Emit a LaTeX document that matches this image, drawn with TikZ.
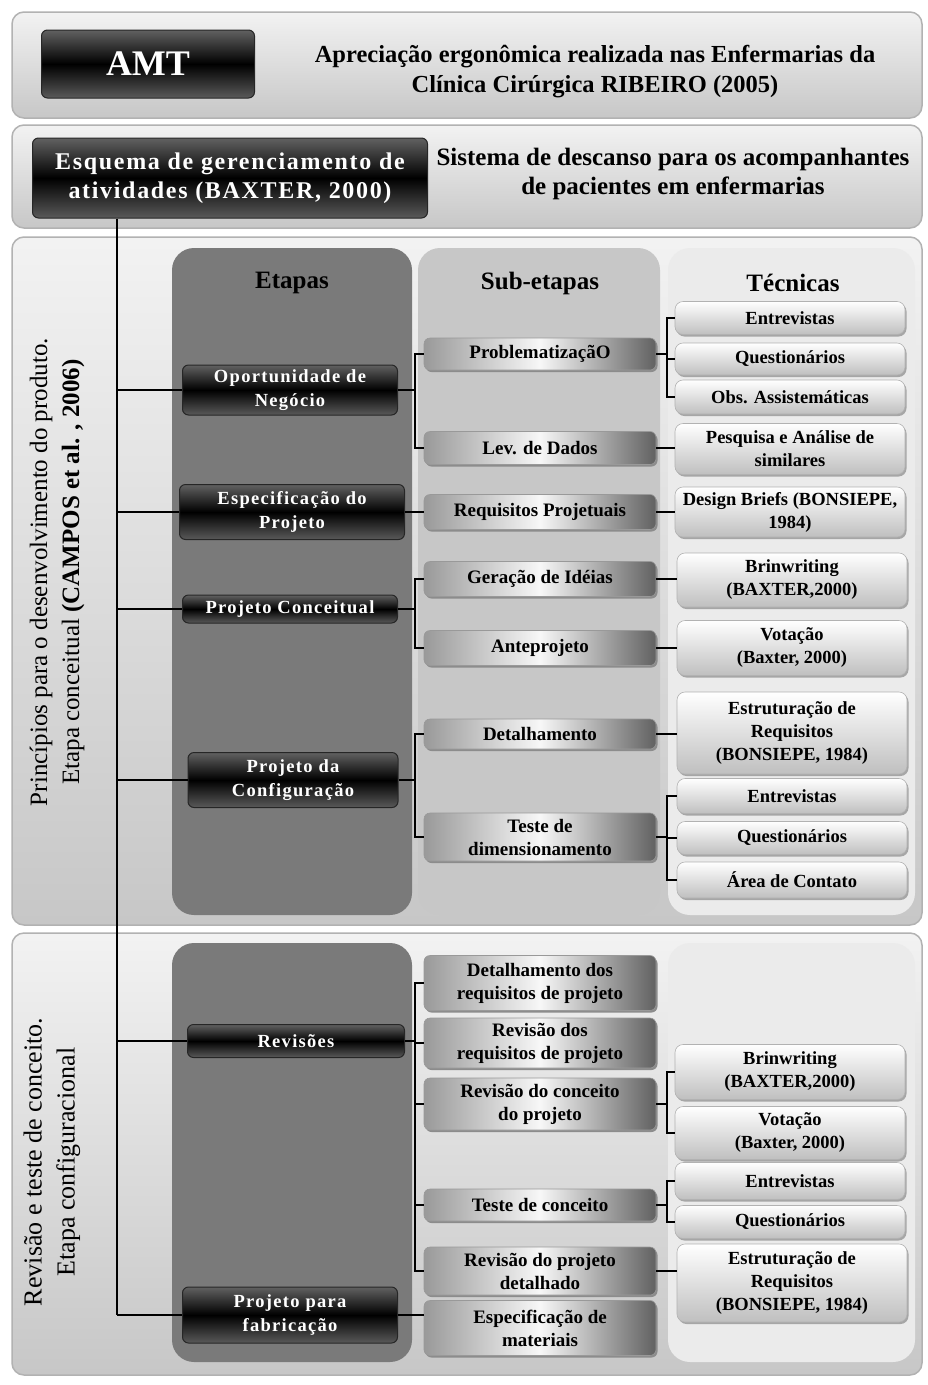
\documentclass[tikz,border=0pt]{standalone}
\usepackage{fontspec}
\setmainfont{Liberation Serif}
\newfontfamily\spcfont[LetterSpace=7]{Liberation Serif}
\usetikzlibrary{shadows}
\tikzset{
  panel/.style={rounded corners=12pt, draw=black!30, line width=1.5pt, top color=black!5, bottom color=black!22},
  etcol/.style={rounded corners=22pt, fill=black!52},
  subcol/.style={rounded corners=22pt, fill=black!22},
  teccol/.style={rounded corners=22pt, fill=black!8},
  darkbox/.style={rounded corners=6pt, draw=black!85, line width=1pt, top color=black!62, bottom color=black!65, middle color=black, text=white, align=center, font=\spcfont\bfseries\fontsize{18.5}{24}\selectfont, inner sep=1pt},
  subbox/.style={rounded corners=6pt, draw=black!40, line width=0.6pt, left color=black!40, right color=black!62, middle color=black!3, align=center, font=\bfseries\fontsize{19}{23}\selectfont, minimum width=232pt, inner sep=1pt, general shadow={fill=black!45, shadow xshift=1.5pt, shadow yshift=-2pt}},
  tecbox/.style={rounded corners=8pt, draw=black!30, line width=0.6pt, top color=white, bottom color=black!25, align=center, font=\bfseries\fontsize{18.5}{23}\selectfont, minimum width=230pt, inner sep=1pt, general shadow={fill=black!35, shadow xshift=1.5pt, shadow yshift=-2pt}},
  link/.style={draw=black, line width=1.3pt},
  header/.style={font=\bfseries\fontsize{25}{28}\selectfont},
  plain/.style={align=center, font=\bfseries\fontsize{24.5}{30}\selectfont},
  sidelab/.style={rotate=90, align=center, font=\fontsize{25}{32}\selectfont},
}
\begin{document}
\begin{tikzpicture}[x=1pt, y=-1pt]
\useasboundingbox (0,0) rectangle (927,1385);
\fill[white] (0,0) rectangle (927,1385);
% panels
\draw[panel] (12,12) rectangle (922,118);
\draw[panel] (12,125) rectangle (922,228);
\draw[panel] (12,237) rectangle (922,925);
\draw[panel] (12,933) rectangle (922,1375);
% columns
\fill[etcol] (172,248) rectangle (412,915);
\fill[subcol] (418,248) rectangle (660,915);
\fill[teccol] (668,248) rectangle (915,915);
\fill[etcol] (172,943) rectangle (412,1362);
\fill[teccol] (668,943) rectangle (915,1362);
% top
\node[darkbox, minimum width=213pt, minimum height=68pt, font=\bfseries\fontsize{36}{40}\selectfont] (amt) at (148,64) {AMT};
\node[plain] (title) at (595,72) {Apreciação ergonômica realizada nas Enfermarias da\\ Clínica Cirúrgica RIBEIRO (2005)};
\node[darkbox, minimum width=395pt, minimum height=80pt, font=\spcfont\bfseries\fontsize{24}{29}\selectfont] (esq) at (230,178) {Esquema de gerenciamento de\\ atividades (BAXTER, 2000)};
\node[plain, font=\bfseries\fontsize{25}{29}\selectfont] (sis) at (673,174) {Sistema de descanso para os acompanhantes\\ de pacientes em enfermarias};
% side labels
\node[sidelab] (lab1) at (57,572) {Princípios para o desenvolvimento do produto.\\ Etapa conceitual \textbf{(CAMPOS et al. , 2006)}};
\node[sidelab, font=\fontsize{26}{33}\selectfont] (lab2) at (52,1162) {Revisão e teste de conceito.\\ Etapa configuracional};
% headers
\node[header] (h1) at (292,283) {Etapas};
\node[header] (h2) at (540,283) {Sub-etapas};
\node[header] (h3) at (793,283) {Técnicas};
% etapas
\node[darkbox, minimum width=215pt, minimum height=50pt] (opp) at (290,390) {Oportunidade de\\ Negócio};
\node[darkbox, minimum width=225pt, minimum height=55pt] (esp) at (292,512) {Especificação do\\ Projeto};
\node[darkbox, minimum width=215pt, minimum height=28pt] (conc) at (290,609) {Projeto Conceitual};
\node[darkbox, minimum width=210pt, minimum height=55pt] (conf) at (293,780) {Projeto da\\ Configuração};
\node[darkbox, minimum width=217pt, minimum height=33pt] (rev) at (296,1041) {Revisões};
\node[darkbox, minimum width=215pt, minimum height=56pt] (fab) at (290,1315) {Projeto para\\ fabricação};
% sub-etapas
\node[subbox, minimum height=32pt] (prob) at (540,354) {ProblematizaçãO};
\node[subbox, minimum height=33pt] (lev) at (540,448) {Lev. de Dados};
\node[subbox, minimum height=35pt] (req) at (540,512) {Requisitos Projetuais};
\node[subbox, minimum height=35pt] (ger) at (540,579) {Geração de Idéias};
\node[subbox, minimum height=35pt] (ante) at (540,648) {Anteprojeto};
\node[subbox, minimum height=30pt] (det) at (540,734) {Detalhamento};
\node[subbox, minimum height=48pt] (tdim) at (540,837) {Teste de\\ dimensionamento};
\node[subbox, minimum height=55pt] (dreq) at (540,983) {Detalhamento dos\\ requisitos de projeto};
\node[subbox, minimum height=50pt] (rreq) at (540,1043) {Revisão dos\\ requisitos de projeto};
\node[subbox, minimum height=52pt] (rcon) at (540,1104) {Revisão do conceito\\ do projeto};
\node[subbox, minimum height=32pt] (tcon) at (540,1205) {Teste de conceito};
\node[subbox, minimum height=48pt] (rdet) at (540,1271) {Revisão do projeto\\ detalhado};
\node[subbox, minimum height=55pt] (mat) at (540,1328) {Especificação de\\ materiais};
% tecnicas
\node[tecbox, minimum height=33pt] (t1) at (790,318) {Entrevistas};
\node[tecbox, minimum height=32pt] (t2) at (790,359) {Questionários};
\node[tecbox, minimum height=34pt] (t3) at (790,397) {Obs. Assistemáticas};
\node[tecbox, minimum height=51pt] (t4) at (790,449) {Pesquisa e Análise de\\ similares};
\node[tecbox, minimum height=50pt] (t5) at (790,512) {Design Briefs (BONSIEPE,\\ 1984)};
\node[tecbox, minimum height=54pt] (t6) at (792,580) {Brinwriting\\ (BAXTER,2000)};
\node[tecbox, minimum height=55pt] (t7) at (792,648) {Votação\\ (Baxter, 2000)};
\node[tecbox, minimum height=82pt] (t8) at (792,733) {Estruturação de\\ Requisitos\\ (BONSIEPE, 1984)};
\node[tecbox, minimum height=35pt] (t9) at (792,796) {Entrevistas};
\node[tecbox, minimum height=33pt] (t10) at (792,838) {Questionários};
\node[tecbox, minimum height=36pt] (t11) at (792,880) {Área de Contato};
\node[tecbox, minimum height=55pt] (b1) at (790,1072) {Brinwriting\\ (BAXTER,2000)};
\node[tecbox, minimum height=53pt] (b2) at (790,1133) {Votação\\ (Baxter, 2000)};
\node[tecbox, minimum height=37pt] (b3) at (790,1181) {Entrevistas};
\node[tecbox, minimum height=33pt] (b4) at (790,1222) {Questionários};
\node[tecbox, minimum height=78pt] (b5) at (792,1283) {Estruturação de\\ Requisitos\\ (BONSIEPE, 1984)};
% connectors
\coordinate (sp) at (117,0);
\coordinate (bx) at (415,0);
\coordinate (tx) at (667,0);
\draw[link] (esq.south -| sp) -- (fab.west -| sp);
\foreach \n in {opp,esp,conc,conf,rev,fab} \draw[link] (\n.west -| sp) -- (\n.west);
\draw[link] (opp.east) -- (opp.east -| bx);
\draw[link] (prob.west) -- (prob.west -| bx) -- (lev.west -| bx) -- (lev.west);
\draw[link] (esp.east) -- (esp.east -| req.west);
\draw[link] (conc.east) -- (conc.east -| bx);
\draw[link] (ger.west) -- (ger.west -| bx) -- (ante.west -| bx) -- (ante.west);
\draw[link] (conf.east) -- (conf.east -| bx);
\draw[link] (det.west) -- (det.west -| bx) -- (tdim.west -| bx) -- (tdim.west);
\draw[link] (rev.east) -- (rev.east -| bx);
\draw[link] (dreq.west) -- (dreq.west -| bx) -- (rdet.west -| bx) -- (rdet.west);
\foreach \n in {rreq,rcon,tcon} \draw[link] (\n.west -| bx) -- (\n.west);
\draw[link] (fab.east) -- (fab.east -| mat.west);
% sub -> tecnicas
\draw[link] (prob.east) -- (prob.east -| tx);
\draw[link] (t1.west) -- (t1.west -| tx) -- (t3.west -| tx) -- (t3.west);
\draw[link] (t2.west -| tx) -- (t2.west);
\draw[link] (lev.east) -- (lev.east -| t4.west);
\draw[link] (req.east) -- (req.east -| t5.west);
\draw[link] (ger.east) -- (ger.east -| t6.west);
\draw[link] (ante.east) -- (ante.east -| t7.west);
\draw[link] (det.east) -- (det.east -| t8.west);
\draw[link] (tdim.east) -- (tdim.east -| tx);
\draw[link] (t9.west) -- (t9.west -| tx) -- (t11.west -| tx) -- (t11.west);
\draw[link] (t10.west -| tx) -- (t10.west);
\draw[link] (rcon.east) -- (rcon.east -| tx);
\draw[link] (b1.west) -- (b1.west -| tx) -- (b2.west -| tx) -- (b2.west);
\draw[link] (tcon.east) -- (tcon.east -| tx);
\draw[link] (b3.west) -- (b3.west -| tx) -- (b4.west -| tx) -- (b4.west);
\draw[link] (rdet.east) -- (rdet.east -| b5.west);
\end{tikzpicture}
\end{document}
